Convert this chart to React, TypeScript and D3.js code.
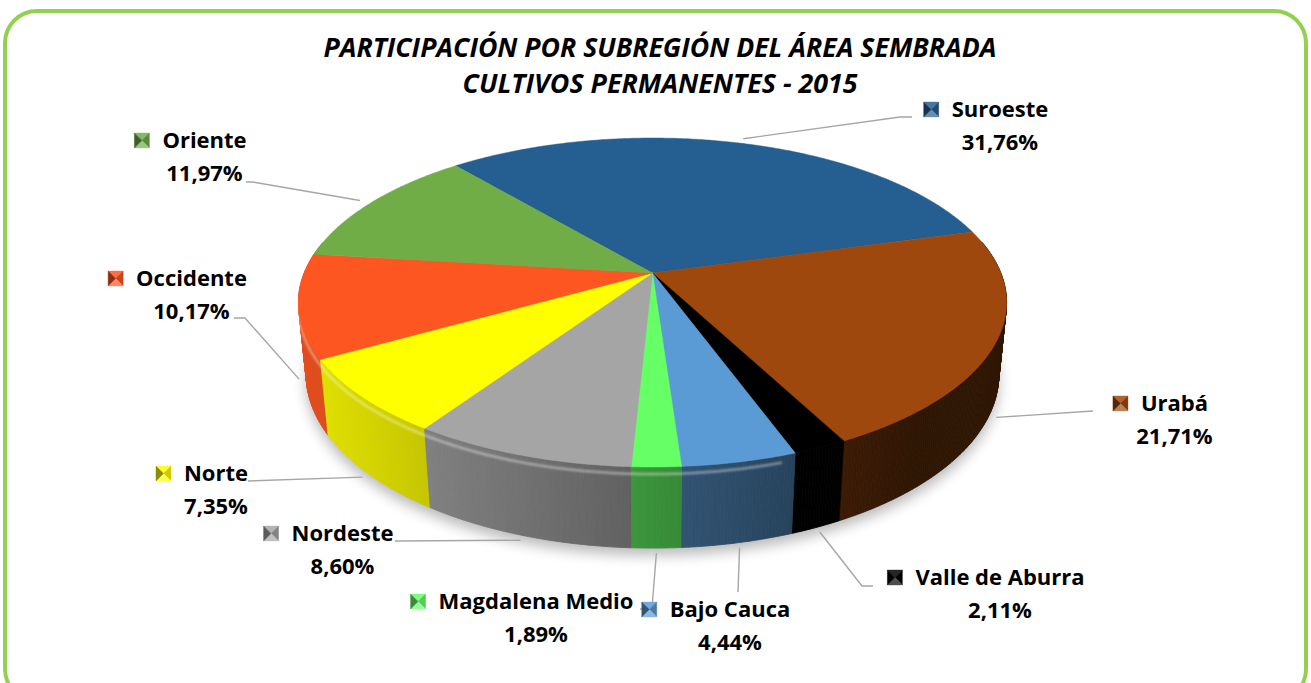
import React from "react";
import * as d3 from "d3";

// ---------- data ----------
const regions = [
  "Suroeste",
  "Urabá",
  "Valle de Aburra",
  "Bajo Cauca",
  "Magdalena Medio",
  "Nordeste",
  "Norte",
  "Occidente",
  "Oriente",
];
const shares = [31.76, 21.71, 2.11, 4.44, 1.89, 8.6, 7.35, 10.17, 11.97];
const topColors = [
  "#255E91",
  "#9E480E",
  "#000000",
  "#5B9BD5",
  "#66FF66",
  "#A5A5A5",
  "#FFFF00",
  "#FD5621",
  "#70AD47",
];
const titleLines = [
  "PARTICIPACIÓN POR SUBREGIÓN DEL ÁREA SEMBRADA",
  "CULTIVOS PERMANENTES - 2015",
];

// ---------- layout ----------
const W = 1311;
const H = 683;
const CX = 652.5;
const CY = 273;
const K = 1727;
const DIST = 4.958;
const SIN = 0.457;
const COS = Math.sqrt(1 - SIN * SIN);
const THICK = 0.234;
const START = (-40 * Math.PI) / 180;
const FONT = "'Open Sans', 'DejaVu Sans', sans-serif";

// label layout: name centre x, name baseline y, leader points (pie -> label)
const labelLayout: { cx: number; y: number; lead: [number, number][] }[] = [
  { cx: 1000, y: 117, lead: [[900, 117], [912, 117]] },
  { cx: 1174.5, y: 411, lead: [[1093, 411]] },
  { cx: 1000, y: 585, lead: [[862, 586], [873, 586]] },
  { cx: 730, y: 617, lead: [[738, 592]] },
  { cx: 536, y: 609, lead: [[652, 608], [640, 609]] },
  { cx: 342.5, y: 541, lead: [[395, 541]] },
  { cx: 216, y: 481, lead: [[248, 481]] },
  { cx: 191.5, y: 286, lead: [[245, 318], [234, 318]] },
  { cx: 204.5, y: 148, lead: [[253, 182], [246, 182]] },
];

function proj(theta: number, r: number, z: number): [number, number] {
  const X = r * Math.sin(theta);
  const Y = -r * Math.cos(theta);
  const w = DIST - Y * COS - z * SIN;
  const sx = (K * X) / w;
  const syUp = -Y * SIN + z * COS;
  return [CX + sx, CY - (syUp * K) / w];
}

function shade(theta: number) {
  const deg = (theta * 180) / Math.PI;
  const f = 0.5 + 0.4 * Math.cos(((deg - 260) * Math.PI) / 180);
  return Math.max(0.3, Math.min(0.95, f));
}

const fmt = (v: number) => d3.format(".2f")(v).replace(".", ",") + "%";

export default function App() {
  const ref = React.useRef<SVGSVGElement>(null);

  React.useEffect(() => {
    const svg = d3.select(ref.current);
    svg.selectAll("*").remove();
    const defs = svg.append("defs");
    defs
      .append("filter")
      .attr("id", "shadowBlur")
      .attr("x", "-20%")
      .attr("y", "-20%")
      .attr("width", "140%")
      .attr("height", "140%")
      .append("feGaussianBlur")
      .attr("stdDeviation", 7);
    defs
      .append("filter")
      .attr("id", "rimBlur")
      .attr("x", "-10%")
      .attr("y", "-10%")
      .attr("width", "120%")
      .attr("height", "120%")
      .append("feGaussianBlur")
      .attr("stdDeviation", 1.2);

    svg.append("rect").attr("width", W).attr("height", H).attr("fill", "#fff");
    svg
      .append("rect")
      .attr("x", 5)
      .attr("y", 11)
      .attr("width", 1301)
      .attr("height", 690)
      .attr("rx", 32)
      .attr("fill", "#fff")
      .attr("stroke", "#92D050")
      .attr("stroke-width", 4);

    // title
    const titleY = [57, 93];
    const titleLen = [673, 395];
    titleLines.forEach((t, i) => {
      svg
        .append("text")
        .attr("x", 660)
        .attr("y", titleY[i])
        .attr("text-anchor", "middle")
        .attr("font-family", FONT)
        .attr("font-size", 26)
        .attr("font-weight", "bold")
        .attr("font-style", "italic")
        .attr("textLength", titleLen[i])
        .attr("lengthAdjust", "spacingAndGlyphs")
        .attr("fill", "#000")
        .text(t);
    });

    const pie = d3
      .pie<number>()
      .sort(null)
      .value((d) => d)
      .startAngle(START)
      .endAngle(START + 2 * Math.PI);
    const arcs = pie(shares);
    const line = d3.line<[number, number]>();
    const step = Math.PI / 360;
    const sampleArc = (a0: number, a1: number, r: number, z: number) => {
      const n = Math.max(2, Math.ceil((a1 - a0) / step));
      return d3.range(n + 1).map((k) => proj(a0 + ((a1 - a0) * k) / n, r, z));
    };

    // shadow
    const bottom = sampleArc(0, 2 * Math.PI, 1.0, -THICK);
    svg
      .append("path")
      .attr("d", line(bottom) + "Z")
      .attr("transform", "translate(0,7)")
      .attr("fill", "#000")
      .attr("opacity", 0.28)
      .attr("filter", "url(#shadowBlur)");

    // side walls
    type Seg = { i: number; t0: number; t1: number; depth: number };
    const segs: Seg[] = [];
    arcs.forEach((a, i) => {
      const n = Math.max(1, Math.ceil((a.endAngle - a.startAngle) / step));
      for (let k = 0; k < n; k++) {
        const t0 = a.startAngle + ((a.endAngle - a.startAngle) * k) / n;
        const t1 = a.startAngle + ((a.endAngle - a.startAngle) * (k + 1)) / n;
        const mid = (t0 + t1) / 2;
        const depth = -Math.cos(mid);
        if (depth > -0.2) segs.push({ i, t0, t1, depth });
      }
    });
    segs.sort((a, b) => a.depth - b.depth);
    const sideG = svg.append("g");
    segs.forEach((s) => {
      const p = [
        proj(s.t0, 1, 0),
        proj(s.t1, 1, 0),
        proj(s.t1, 1, -THICK),
        proj(s.t0, 1, -THICK),
      ];
      const col = d3.interpolateRgb("#000", topColors[s.i])(shade((s.t0 + s.t1) / 2));
      sideG
        .append("path")
        .attr("d", line(p as [number, number][]) + "Z")
        .attr("fill", col)
        .attr("stroke", col)
        .attr("stroke-width", 0.8);
    });

    // rim highlight on front walls
    svg
      .append("path")
      .attr("d", line(sampleArc(Math.PI * 0.9, Math.PI * 1.47, 1, -0.02)))
      .attr("fill", "none")
      .attr("stroke", "#fff")
      .attr("stroke-opacity", 0.4)
      .attr("stroke-width", 2.5)
      .attr("filter", "url(#rimBlur)");

    // top faces
    arcs.forEach((a, i) => {
      const pts: [number, number][] = [[CX, CY], ...sampleArc(a.startAngle, a.endAngle, 1, 0)];
      svg
        .append("path")
        .attr("d", line(pts) + "Z")
        .attr("fill", topColors[i])
        .attr("stroke", topColors[i])
        .attr("stroke-width", 0.5);
    });

    // leader lines
    arcs.forEach((a, i) => {
      const mid = (a.startAngle + a.endAngle) / 2;
      const depth = -Math.cos(mid);
      const anchor = depth > 0.15 ? proj(mid, 1.02, -THICK) : proj(mid, 1.04, 0);
      const pts: [number, number][] = [anchor, ...labelLayout[i].lead];
      svg
        .append("path")
        .attr("d", line(pts))
        .attr("fill", "none")
        .attr("stroke", "#A6A6A6")
        .attr("stroke-width", 1.4);
    });

    // labels
    arcs.forEach((a, i) => {
      const L = labelLayout[i];
      const nameT = svg
        .append("text")
        .attr("x", L.cx)
        .attr("y", L.y)
        .attr("text-anchor", "middle")
        .attr("font-family", FONT)
        .attr("font-size", 22)
        .attr("font-weight", "bold")
        .attr("fill", "#000")
        .text(regions[i]);
      svg
        .append("text")
        .attr("x", L.cx)
        .attr("y", L.y + 33)
        .attr("text-anchor", "middle")
        .attr("font-family", FONT)
        .attr("font-size", 22)
        .attr("font-weight", "bold")
        .attr("fill", "#000")
        .text(fmt(shares[i]));
      const len = (nameT.node() as SVGTextElement).getComputedTextLength();
      const size = 15;
      const mx = L.cx - len / 2 - 13 - size;
      const my = L.y - size;
      const c = topColors[i];
      const cx = mx + size / 2;
      const cy = my + size / 2;
      const tris: [[number, number][], string][] = [
        [[[mx, my], [mx + size, my], [cx, cy]], d3.interpolateRgb(c, "#fff")(0.15)],
        [[[mx + size, my], [mx + size, my + size], [cx, cy]], d3.interpolateRgb(c, "#000")(0.2)],
        [[[mx, my + size], [mx + size, my + size], [cx, cy]], d3.interpolateRgb(c, "#fff")(0.3)],
        [[[mx, my], [mx, my + size], [cx, cy]], d3.interpolateRgb(c, "#000")(0.45)],
      ];
      tris.forEach(([p, col]) => {
        svg
          .append("path")
          .attr("d", line(p) + "Z")
          .attr("fill", col)
          .attr("stroke", col)
          .attr("stroke-width", 0.4);
      });
    });
  }, []);

  return (
    <svg
      ref={ref}
      width={W}
      height={H}
      style={{ position: "absolute", left: 0, top: 0, display: "block" }}
    />
  );
}
